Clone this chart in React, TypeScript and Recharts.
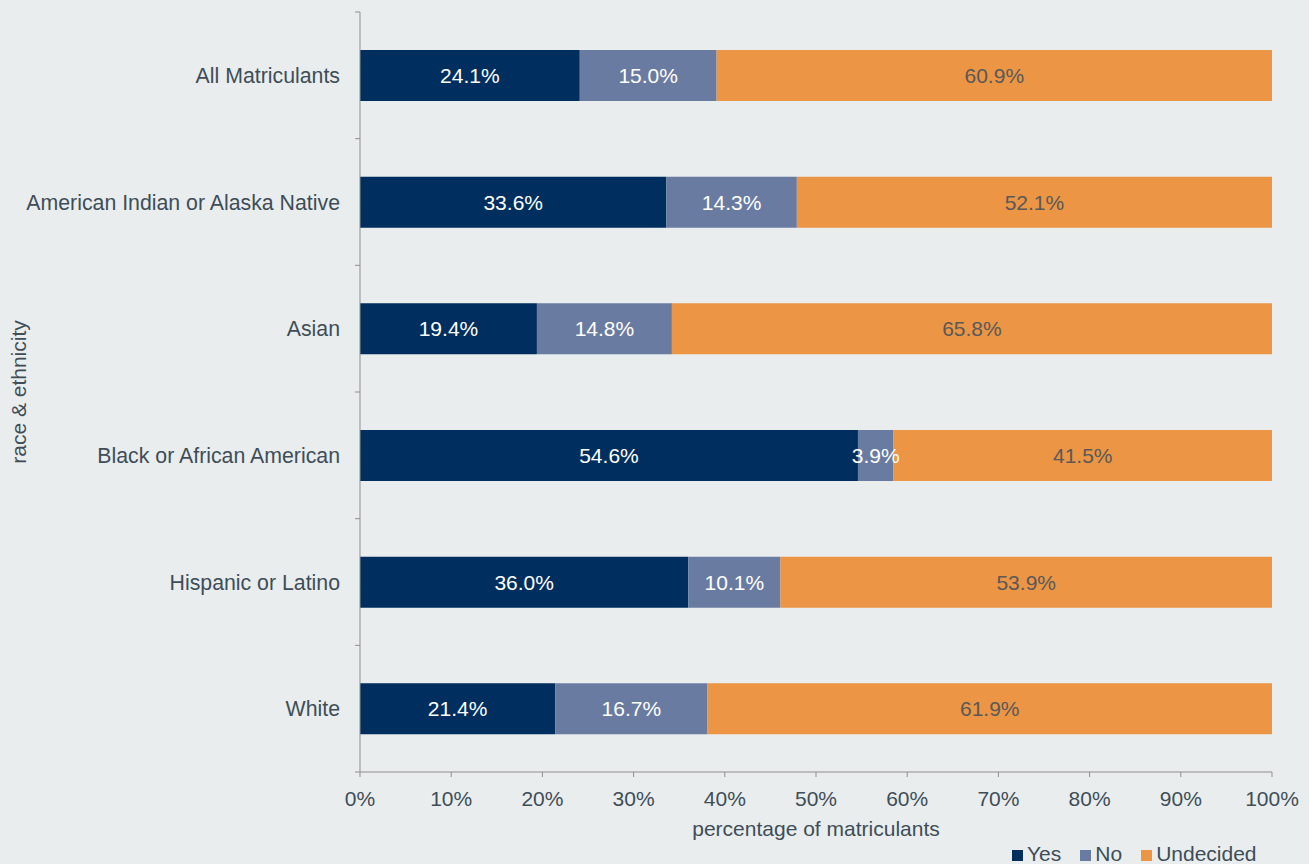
import { BarChart, Bar, XAxis, YAxis, Legend, LabelList } from 'recharts'

const categories = [
  'All Matriculants',
  'American Indian or Alaska Native',
  'Asian',
  'Black or African American',
  'Hispanic or Latino',
  'White',
]
const yesValues = [24.1, 33.6, 19.4, 54.6, 36.0, 21.4]
const noValues = [15.0, 14.3, 14.8, 3.9, 10.1, 16.7]
const undecidedValues = [60.9, 52.1, 65.8, 41.5, 53.9, 61.9]
const seriesNames = ['Yes', 'No', 'Undecided']
const xTicks = [0, 10, 20, 30, 40, 50, 60, 70, 80, 90, 100]

const data = categories.map((name, i) => ({
  name,
  yes: yesValues[i],
  no: noValues[i],
  undecided: undecidedValues[i],
}))

const W = 1309
const H = 864
const TOP = 12
const RIGHT = 37
const YAXIS_W = 360
const XAXIS_H = 92
const AXIS_X = YAXIS_W
const BAND = (H - TOP - XAXIS_H) / categories.length

const TEXT = '#3e4d58'
const AXIS = '#8f8f8f'
const FONT = '"Liberation Sans", Arial, sans-serif'

const fmt = (v: any) => `${Number(v).toFixed(1)}%`

function CategoryTick({ y, payload, index }: any) {
  const top = payload.coordinate - BAND / 2
  return (
    <g>
      <line x1={AXIS_X - 5} x2={AXIS_X} y1={top} y2={top} stroke={AXIS} />
      {index === categories.length - 1 && (
        <line x1={AXIS_X - 5} x2={AXIS_X} y1={top + BAND} y2={top + BAND} stroke={AXIS} />
      )}
      <text x={AXIS_X - 20} y={y} dy="0.36em" textAnchor="end" fill={TEXT} fontSize={21.3}>
        {payload.value}
      </text>
    </g>
  )
}

function LegendBox({ payload }: any) {
  const items = [...(payload || [])].sort(
    (a: any, b: any) => seriesNames.indexOf(a.value) - seriesNames.indexOf(b.value)
  )
  return (
    <div style={{ display: 'flex', fontSize: 21, lineHeight: '21px', color: TEXT, fontFamily: FONT }}>
      {items.map((p: any) => (
        <div key={p.value} style={{ display: 'flex', alignItems: 'center', marginRight: 19 }}>
          <span style={{ width: 11, height: 11, background: p.color, marginRight: 4, marginTop: 3 }} />
          <span>{p.value}</span>
        </div>
      ))}
    </div>
  )
}

export default function App() {
  return (
    <div style={{ position: 'absolute', left: 0, top: 0, width: W, height: H, background: '#e9edee', fontFamily: FONT }}>
      <BarChart
        width={W}
        height={H}
        data={data}
        layout="vertical"
        margin={{ top: TOP, right: RIGHT, left: 0, bottom: 0 }}
        barSize={51}
        style={{ fontFamily: FONT }}
      >
        <XAxis
          type="number"
          domain={[0, 100]}
          ticks={xTicks}
          tickFormatter={(v) => `${v}%`}
          height={XAXIS_H}
          stroke={AXIS}
          tickSize={5}
          tickMargin={14}
          tick={{ fill: TEXT, fontSize: 21 }}
          interval={0}
          label={{
            content: ({ viewBox }: any) => (
              <text x={viewBox.x + viewBox.width / 2} y={viewBox.y + 64} textAnchor="middle" fill={TEXT} fontSize={21}>
                percentage of matriculants
              </text>
            ),
          }}
        />
        <YAxis
          type="category"
          dataKey="name"
          width={YAXIS_W}
          stroke={AXIS}
          tickLine={false}
          tick={<CategoryTick />}
          interval={0}
          label={{
            content: ({ viewBox }: any) => {
              const cy = viewBox.y + viewBox.height / 2
              return (
                <text x={18} y={cy} transform={`rotate(-90 18 ${cy})`} textAnchor="middle" dominantBaseline="central" fill={TEXT} fontSize={21}>
                  race &amp; ethnicity
                </text>
              )
            },
          }}
        />
        <Legend
          layout="horizontal"
          verticalAlign="middle"
          align="center"
          wrapperStyle={{ left: 1012, top: 843, width: 'auto' }}
          content={<LegendBox />}
        />
        <Bar dataKey="yes" name="Yes" stackId="a" fill="#002f5f" isAnimationActive={false}>
          <LabelList dataKey="yes" position="center" formatter={fmt} fill="#ffffff" fontSize={21} />
        </Bar>
        <Bar dataKey="no" name="No" stackId="a" fill="#6a7ba2" isAnimationActive={false}>
          <LabelList dataKey="no" position="center" formatter={fmt} fill="#ffffff" fontSize={21} />
        </Bar>
        <Bar dataKey="undecided" name="Undecided" stackId="a" fill="#eb9545" isAnimationActive={false}>
          <LabelList dataKey="undecided" position="center" formatter={fmt} fill="#595959" fontSize={21} />
        </Bar>
      </BarChart>
    </div>
  )
}
